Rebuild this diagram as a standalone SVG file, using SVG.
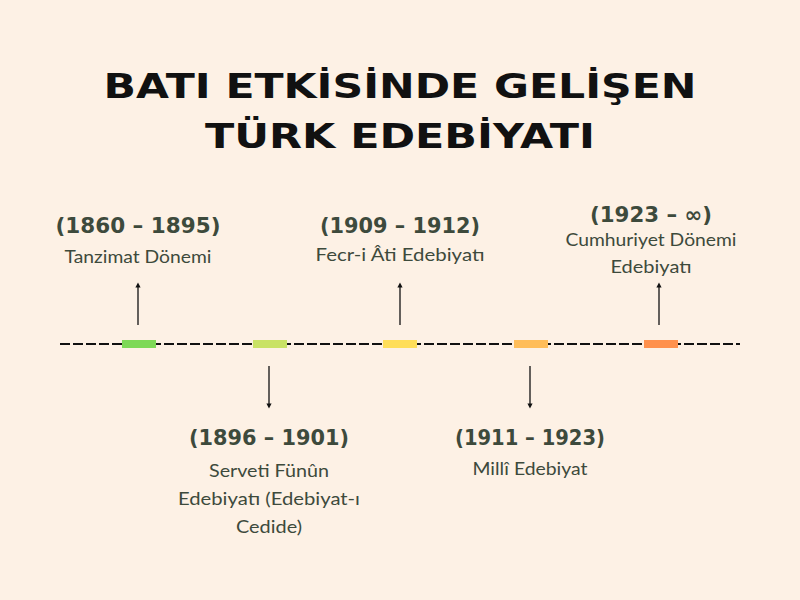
<svg xmlns="http://www.w3.org/2000/svg" width="800" height="600" viewBox="0 0 800 600">
<defs>
<marker id="ah" viewBox="0 0 6 6" refX="3" refY="3" markerWidth="4" markerHeight="4" orient="auto-start-reverse"><path d="M0,0 L6,3 L0,6 z" fill="#111"/></marker>
<style>
.title{font-family:"DejaVu Sans",sans-serif;font-weight:bold;font-size:34px;fill:#111;}
.yr{font-family:"DejaVu Sans",sans-serif;font-weight:bold;font-size:21px;fill:#3d4a3c;text-anchor:middle;}
.lb{font-family:"Lato","Liberation Sans",sans-serif;font-size:18px;fill:#3d4a3c;text-anchor:middle;}
.arr{stroke:#111;stroke-width:1.3;fill:none;marker-end:url(#ah);}
.bar{stroke:none;}
</style>
</defs>
<rect width="800" height="600" fill="#fdf1e5"/>
<g id="title">
<text class="title" x="400" y="98" text-anchor="middle" textLength="593" lengthAdjust="spacingAndGlyphs">BATI ETKİSİNDE GELİŞEN</text>
<text class="title" x="400" y="148" text-anchor="middle" textLength="390" lengthAdjust="spacingAndGlyphs">TÜRK EDEBİYATI</text>
</g>
<g id="connectors">
<line x1="60" y1="344" x2="740" y2="344" stroke="#111" stroke-width="2" stroke-dasharray="10,3"/>
<line class="arr" x1="138" y1="325" x2="138" y2="285"/>
<line class="arr" x1="400" y1="325" x2="400" y2="285"/>
<line class="arr" x1="659" y1="325" x2="659" y2="285"/>
<line class="arr" x1="269" y1="366" x2="269" y2="406"/>
<line class="arr" x1="530" y1="366" x2="530" y2="406"/>
</g>
<g id="bars">
<rect class="bar" x="122" y="340" width="34" height="8" fill="#7ed957"/>
<rect class="bar" x="253" y="340" width="34" height="8" fill="#c9e265"/>
<rect class="bar" x="383" y="340" width="34" height="8" fill="#ffde59"/>
<rect class="bar" x="514" y="340" width="34" height="8" fill="#ffbd59"/>
<rect class="bar" x="644" y="340" width="34" height="8" fill="#ff914d"/>
</g>
<g id="n1">
<text class="yr" x="138" y="233" textLength="165" lengthAdjust="spacingAndGlyphs">(1860 – 1895)</text>
<text class="lb" x="138" y="263" textLength="147" lengthAdjust="spacingAndGlyphs">Tanzimat Dönemi</text>
</g>
<g id="n2">
<text class="yr" x="269" y="445" textLength="160" lengthAdjust="spacingAndGlyphs">(1896 – 1901)</text>
<text class="lb" x="269" y="477" textLength="120" lengthAdjust="spacingAndGlyphs">Serveti Fünûn</text>
<text class="lb" x="269" y="505" textLength="182" lengthAdjust="spacingAndGlyphs">Edebiyatı (Edebiyat-ı</text>
<text class="lb" x="269" y="533" textLength="66" lengthAdjust="spacingAndGlyphs">Cedide)</text>
</g>
<g id="n3">
<text class="yr" x="400" y="233" textLength="160" lengthAdjust="spacingAndGlyphs">(1909 – 1912)</text>
<text class="lb" x="400" y="261" textLength="169" lengthAdjust="spacingAndGlyphs">Fecr-i Âti Edebiyatı</text>
</g>
<g id="n4">
<text class="yr" x="530" y="445" textLength="150" lengthAdjust="spacingAndGlyphs">(1911 – 1923)</text>
<text class="lb" x="530" y="475" textLength="115" lengthAdjust="spacingAndGlyphs">Millî Edebiyat</text>
</g>
<g id="n5">
<text class="yr" x="651" y="222" textLength="122" lengthAdjust="spacingAndGlyphs">(1923 – ∞)</text>
<text class="lb" x="651" y="246" textLength="171" lengthAdjust="spacingAndGlyphs">Cumhuriyet Dönemi</text>
<text class="lb" x="651" y="273" textLength="81" lengthAdjust="spacingAndGlyphs">Edebiyatı</text>
</g>
</svg>
